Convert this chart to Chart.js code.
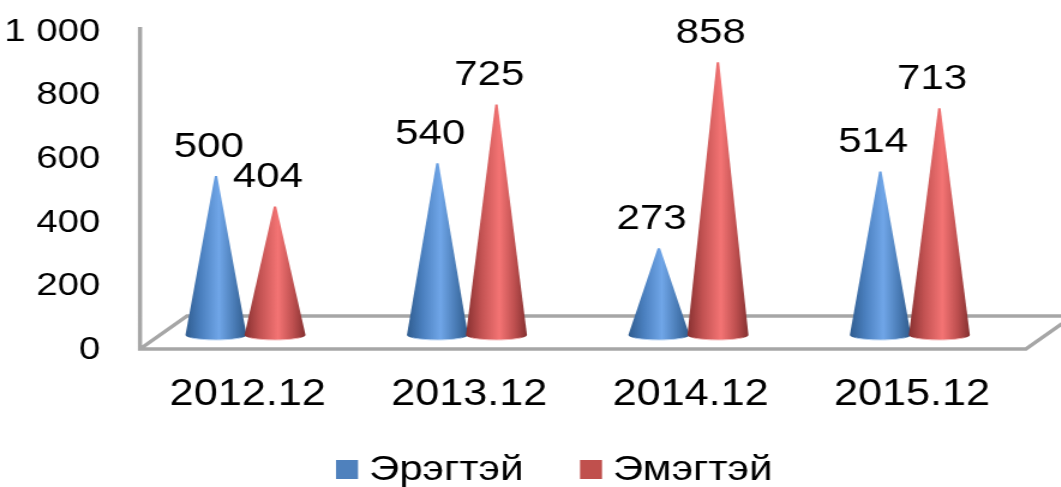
<!DOCTYPE html>
<html>
<head>
<meta charset="utf-8">
<style>
  html, body { margin: 0; padding: 0; background: #fff; overflow: hidden; }
  #wrap { width: 1061px; height: 487px; overflow: hidden; }
  /* the source picture is stretched sideways, so the canvas is too */
  #chart { transform: scaleX(1.2); transform-origin: 0 0; display: block; }
</style>
<script src="https://cdn.jsdelivr.net/npm/chart.js@4"></script>
</head>
<body>
<div id="wrap"><canvas id="chart" width="884" height="487"></canvas></div>
<script>
const categories = ['2012.12', '2013.12', '2014.12', '2015.12'];
const maleValues = [500, 540, 273, 514];
const femaleValues = [404, 725, 858, 713];
const yTickLabels = ['0', '200', '400', '600', '800', '1 000'];
const seriesNames = ['Эрэгтэй', 'Эмэгтэй'];

const FAMILY = '"Liberation Sans", Arial, sans-serif';
const stretch = 1.2;
const legendX = [336, 580];

const coneColors = [
    ['#2f5c8f', '#4a7fbe', '#70a6e8', '#4a7cb6', '#2f5a8a'],
    ['#873030', '#c25252', '#f47474', '#bd4f4f', '#843030']
];
const rimColors = ['#b5d0f0', '#f2b5b5'];

// Cones, labels, floor and legend are all drawn from the chart's own elements
const conePlugin = {
    id: 'cones',
    beforeDraw(chart) {
        const ctx = chart.ctx;
        const a = chart.chartArea;
        const depthX = 47 / stretch;
        const depthY = 33;
        const floorY = a.bottom - 1;
        ctx.save();
        ctx.strokeStyle = '#a6a6a6';
        ctx.lineWidth = 3.5;
        ctx.beginPath();
        ctx.moveTo(a.left, a.top - 5);
        ctx.lineTo(a.left, floorY);
        ctx.lineTo(a.right, floorY);
        ctx.lineTo(a.right + depthX * 0.8, floorY - depthY * 0.8);
        ctx.moveTo(a.left, floorY);
        ctx.lineTo(a.left + depthX, floorY - depthY);
        ctx.lineTo(chart.width, floorY - depthY);
        ctx.stroke();
        ctx.restore();
    },
    beforeDatasetsDraw(chart) {
        const ctx = chart.ctx;
        const shiftX = -5.25 / stretch;
        const shiftY = -15;
        chart.data.datasets.forEach(function (ds, i) {
            chart.getDatasetMeta(i).data.forEach(function (bar) {
                const cx = bar.x + shiftX;
                const half = bar.width / 2;
                const baseY = bar.base + shiftY;
                const tipY = bar.y + shiftY;
                const g = ctx.createLinearGradient(cx - half, 0, cx + half, 0);
                const c = coneColors[i];
                g.addColorStop(0, c[0]);
                g.addColorStop(0.25, c[1]);
                g.addColorStop(0.55, c[2]);
                g.addColorStop(0.8, c[3]);
                g.addColorStop(1, c[4]);
                ctx.fillStyle = g;
                ctx.beginPath();
                ctx.moveTo(cx - 1, tipY);
                ctx.lineTo(cx + 1, tipY);
                ctx.lineTo(cx + half, baseY);
                ctx.ellipse(cx, baseY, half, 5, 0, 0, Math.PI);
                ctx.closePath();
                ctx.fill();
                // pale rim along the bottom of the cone
                ctx.strokeStyle = rimColors[i];
                ctx.lineWidth = 1;
                ctx.beginPath();
                ctx.ellipse(cx, baseY, half, 5, 0, Math.PI * 0.2, Math.PI * 0.8);
                ctx.stroke();
            });
        });
        chart.data.datasets.forEach(function (ds, i) {
            chart.getDatasetMeta(i).data.forEach(function (bar, j) {
                ctx.fillStyle = '#000';
                ctx.font = '35px ' + FAMILY;
                ctx.textAlign = 'center';
                ctx.textBaseline = 'middle';
                ctx.fillText(ds.data[j], bar.x + shiftX - 6, bar.y + shiftY - 29);
            });
        });
        return false;
    },
    afterDraw(chart) {
        const ctx = chart.ctx;
        chart.data.datasets.forEach(function (ds, i) {
            const x = legendX[i] / stretch;
            ctx.fillStyle = ds.backgroundColor;
            ctx.fillRect(x, 460, 22 / stretch, 19);
            ctx.fillStyle = '#000';
            ctx.font = '35px ' + FAMILY;
            ctx.textAlign = 'left';
            ctx.textBaseline = 'middle';
            ctx.fillText(ds.label, x + 33 / stretch, 470);
        });
    }
};

new Chart(document.getElementById('chart'), {
    type: 'bar',
    data: {
        labels: categories,
        datasets: [
            { label: seriesNames[0], data: maleValues, backgroundColor: '#4f81bd' },
            { label: seriesNames[1], data: femaleValues, backgroundColor: '#c0504d' }
        ]
    },
    options: {
        responsive: false,
        animation: false,
        categoryPercentage: 0.533,
        barPercentage: 1.034,
        layout: { padding: { top: 32, right: 35 / stretch, left: 0, bottom: 0 } },
        plugins: { legend: { display: false }, tooltip: { enabled: false } },
        scales: {
            x: {
                grid: { display: false, drawTicks: false },
                border: { display: false },
                afterFit(s) { s.height = 137; },
                ticks: {
                    color: '#000',
                    font: { family: FAMILY, size: 36 },
                    padding: 23,
                    labelOffset: -3 / stretch,
                    maxRotation: 0,
                    autoSkip: false
                }
            },
            y: {
                min: 0,
                max: 1000,
                grid: { display: false, drawTicks: false },
                border: { display: false },
                afterFit(s) {
                    s.width = 140 / stretch;
                    s.paddingTop = 0;
                    s.paddingBottom = 0;
                },
                ticks: {
                    stepSize: 200,
                    color: '#000',
                    font: { family: FAMILY, size: 32 },
                    padding: 33,
                    callback: function (v, i) { return yTickLabels[i]; }
                }
            }
        }
    },
    plugins: [conePlugin]
});
</script>
</body>
</html>
